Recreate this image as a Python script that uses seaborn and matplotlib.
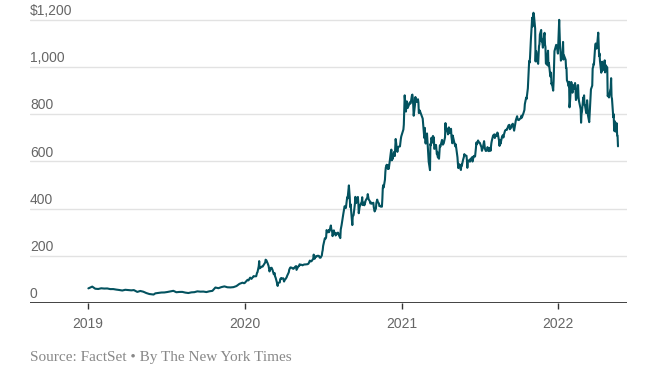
import matplotlib
matplotlib.use("Agg")
import matplotlib.pyplot as plt
import matplotlib.transforms as mtransforms
import seaborn as sns
import pandas as pd

# ──────────────────────────────────────────────
#  Data (closing prices)
# ──────────────────────────────────────────────

DAYS_2019 = [
    "01-02", "01-04", "01-11", "01-18", "01-25", "02-01", "02-08", "02-15", "02-22", "03-01",
    "03-08", "03-15", "03-22", "03-29", "04-05", "04-12", "04-18", "04-26", "05-03", "05-10",
    "05-17", "05-24", "06-03", "06-07", "06-14", "06-21", "06-28", "07-05", "07-12", "07-19",
    "07-26", "08-02", "08-09", "08-16", "08-23", "08-30", "09-06", "09-13", "09-20", "09-27",
    "10-04", "10-11", "10-18", "10-25", "11-01", "11-08", "11-15", "11-22", "11-29", "12-06",
    "12-13", "12-20", "12-27", "12-31",
]
PRICE_2019 = [
    62.0, 63.5, 69.5, 60.5, 59.4, 62.4, 61.2, 61.6, 58.9, 59.0,
    56.8, 55.1, 52.9, 56.0, 55.0, 53.6, 54.7, 47.0, 51.0, 47.9,
    42.2, 38.1, 35.8, 40.9, 42.8, 44.4, 44.7, 46.6, 49.0, 51.6,
    45.6, 46.9, 47.0, 44.0, 42.3, 45.1, 45.9, 49.4, 48.1, 48.4,
    46.3, 49.6, 51.4, 65.6, 62.7, 67.4, 70.4, 66.6, 66.0, 67.2,
    71.7, 81.1, 86.1, 83.7,
]

DAYS_2020 = [
    "01-02", "01-03", "01-08", "01-10", "01-14", "01-17", "01-22", "01-24", "01-28", "01-30",
    "01-31", "02-03", "02-04", "02-05", "02-07", "02-10", "02-12", "02-14", "02-18", "02-19",
    "02-21", "02-24", "02-26", "02-28", "03-02", "03-04", "03-06", "03-09", "03-11", "03-12",
    "03-13", "03-16", "03-18", "03-19", "03-23", "03-24", "03-26", "03-27", "03-31", "04-02",
    "04-03", "04-06", "04-08", "04-09", "04-13", "04-14", "04-16", "04-17", "04-20", "04-22",
    "04-24", "04-28", "04-30", "05-01", "05-05", "05-07", "05-08", "05-11", "05-13", "05-15",
    "05-18", "05-20", "05-22", "05-27", "05-29", "06-01", "06-03", "06-05", "06-09", "06-10",
    "06-12", "06-15", "06-17", "06-19", "06-22", "06-24", "06-26", "06-29", "06-30", "07-01",
    "07-02", "07-06", "07-08", "07-09", "07-10", "07-13", "07-15", "07-16", "07-20", "07-21",
    "07-23", "07-24", "07-27", "07-28", "07-30", "07-31", "08-04", "08-06", "08-07", "08-11",
    "08-12", "08-14", "08-17", "08-18", "08-20", "08-21", "08-24", "08-26", "08-27", "08-28",
    "08-31", "09-01", "09-02", "09-03", "09-04", "09-08", "09-09", "09-11", "09-14", "09-15",
    "09-17", "09-18", "09-21", "09-22", "09-23", "09-25", "09-28", "09-30", "10-01", "10-02",
    "10-05", "10-06", "10-08", "10-09", "10-13", "10-14", "10-16", "10-19", "10-20", "10-22",
    "10-23", "10-27", "10-28", "10-30", "11-02", "11-03", "11-05", "11-06", "11-09", "11-10",
    "11-12", "11-13", "11-16", "11-17", "11-18", "11-19", "11-20", "11-23", "11-24", "11-25",
    "11-27", "11-30", "12-01", "12-02", "12-04", "12-07", "12-08", "12-09", "12-10", "12-11",
    "12-14", "12-16", "12-17", "12-18", "12-21", "12-22", "12-24", "12-28", "12-30", "12-31",
]
PRICE_2020 = [
    86.1, 88.6, 98.4, 95.6, 107.6, 102.1, 113.9, 113.0, 113.4, 128.2,
    130.1, 156.0, 177.4, 146.9, 149.6, 154.3, 154.3, 160.0, 171.7, 183.5,
    180.2, 166.8, 156.4, 133.6, 148.7, 149.1, 140.7, 121.6, 126.8, 112.1,
    109.3, 89.0, 72.2, 85.5, 86.9, 101.0, 105.6, 102.9, 104.8, 90.9,
    96.0, 103.2, 109.1, 114.6, 130.2, 141.0, 149.0, 150.8, 149.4, 146.0,
    145.0, 153.8, 156.4, 140.3, 155.2, 156.3, 163.9, 161.9, 162.0, 159.8,
    162.7, 163.4, 163.4, 164.6, 167.0, 179.6, 176.3, 177.1, 188.0, 205.0,
    187.1, 198.2, 197.0, 200.2, 199.7, 192.2, 191.9, 201.9, 215.9, 223.9,
    241.7, 274.3, 273.2, 278.9, 308.9, 299.4, 309.2, 300.1, 328.6, 313.7,
    302.6, 283.4, 307.9, 295.3, 297.5, 286.2, 297.4, 297.9, 290.5, 274.9,
    311.0, 330.1, 367.1, 377.4, 400.4, 410.0, 402.8, 430.6, 447.8, 442.7,
    498.3, 475.1, 447.4, 407.0, 418.3, 330.2, 366.3, 372.7, 419.6, 449.8,
    423.4, 442.2, 449.4, 424.2, 380.4, 407.3, 421.2, 429.0, 448.2, 415.1,
    425.7, 414.0, 425.9, 434.0, 446.7, 461.3, 439.7, 430.8, 421.9, 425.8,
    420.6, 424.7, 406.0, 388.0, 400.5, 423.9, 438.1, 430.0, 421.3, 410.4,
    411.8, 408.5, 408.1, 441.6, 486.6, 499.3, 489.6, 521.9, 555.4, 574.0,
    585.8, 567.6, 584.8, 568.8, 599.0, 641.8, 649.9, 604.5, 627.1, 610.0,
    639.8, 622.8, 655.9, 695.0, 649.9, 640.3, 661.8, 663.7, 694.8, 705.7,
]

DAYS_2021 = [
    "01-04", "01-05", "01-06", "01-07", "01-08", "01-11", "01-12", "01-13", "01-14", "01-15",
    "01-19", "01-20", "01-21", "01-22", "01-25", "01-26", "01-27", "01-28", "01-29", "02-01",
    "02-02", "02-03", "02-05", "02-08", "02-09", "02-10", "02-12", "02-16", "02-18", "02-19",
    "02-22", "02-23", "02-24", "02-25", "02-26", "03-01", "03-02", "03-03", "03-04", "03-05",
    "03-08", "03-09", "03-10", "03-11", "03-12", "03-15", "03-16", "03-17", "03-18", "03-19",
    "03-22", "03-24", "03-25", "03-26", "03-29", "03-31", "04-01", "04-05", "04-07", "04-09",
    "04-12", "04-13", "04-14", "04-16", "04-19", "04-21", "04-22", "04-23", "04-26", "04-27",
    "04-29", "04-30", "05-03", "05-06", "05-07", "05-10", "05-11", "05-12", "05-13", "05-14",
    "05-17", "05-19", "05-20", "05-21", "05-24", "05-26", "05-27", "05-28", "06-01", "06-02",
    "06-03", "06-04", "06-07", "06-09", "06-10", "06-11", "06-14", "06-15", "06-17", "06-18",
    "06-21", "06-23", "06-24", "06-25", "06-28", "06-30", "07-02", "07-06", "07-07", "07-09",
    "07-12", "07-13", "07-14", "07-16", "07-19", "07-20", "07-22", "07-23", "07-26", "07-27",
    "07-29", "07-30", "08-02", "08-05", "08-06", "08-09", "08-11", "08-12", "08-13", "08-16",
    "08-17", "08-18", "08-19", "08-20", "08-23", "08-25", "08-26", "08-27", "08-30", "09-01",
    "09-03", "09-07", "09-09", "09-10", "09-13", "09-15", "09-17", "09-20", "09-22", "09-24",
    "09-27", "09-28", "09-30", "10-01", "10-04", "10-06", "10-07", "10-08", "10-12", "10-14",
    "10-15", "10-18", "10-19", "10-21", "10-22", "10-25", "10-26", "10-27", "10-28", "10-29",
    "11-01", "11-02", "11-03", "11-04", "11-05", "11-08", "11-09", "11-10", "11-11", "11-12",
    "11-15", "11-16", "11-17", "11-18", "11-19", "11-22", "11-23", "11-24", "11-26", "11-29",
    "11-30", "12-01", "12-02", "12-03", "12-06", "12-07", "12-08", "12-09", "12-10", "12-13",
    "12-14", "12-15", "12-16", "12-17", "12-20", "12-21", "12-22", "12-23", "12-27", "12-28",
    "12-30", "12-31",
]
PRICE_2021 = [
    729.8, 735.1, 756.0, 816.0, 880.0, 811.2, 849.4, 854.4, 845.0, 826.2,
    844.6, 850.5, 845.0, 846.6, 880.8, 883.1, 864.2, 835.4, 793.5, 839.8,
    872.8, 854.7, 852.2, 863.4, 849.5, 804.8, 816.1, 796.2, 787.4, 781.3,
    714.5, 698.8, 742.0, 682.2, 675.5, 718.4, 686.4, 653.2, 621.4, 598.0,
    563.0, 673.6, 668.1, 699.6, 693.7, 707.9, 676.9, 701.8, 653.2, 654.9,
    670.0, 630.3, 640.4, 618.7, 611.3, 667.9, 661.8, 691.1, 671.0, 677.0,
    702.0, 762.3, 732.2, 739.8, 714.6, 744.1, 719.7, 729.4, 738.2, 704.7,
    677.0, 709.4, 684.9, 663.5, 672.4, 629.0, 617.2, 589.9, 571.7, 589.7,
    576.8, 563.5, 586.8, 580.9, 606.4, 619.1, 630.9, 625.2, 623.9, 605.1,
    572.8, 599.1, 605.1, 598.8, 610.1, 609.9, 617.7, 599.4, 616.6, 623.3,
    620.8, 656.6, 679.8, 671.9, 688.7, 679.7, 678.9, 659.6, 644.7, 657.0,
    685.7, 668.5, 653.4, 644.2, 646.2, 660.5, 649.3, 643.4, 657.6, 644.8,
    677.4, 687.2, 709.7, 714.6, 699.1, 713.8, 707.8, 722.3, 717.2, 686.2,
    665.7, 689.0, 673.5, 680.3, 706.3, 711.2, 701.2, 711.9, 730.9, 734.1,
    733.6, 752.9, 754.9, 736.3, 743.0, 755.8, 759.5, 730.2, 751.9, 774.4,
    791.4, 777.6, 775.5, 775.2, 781.5, 782.8, 793.6, 785.5, 805.7, 818.3,
    843.0, 870.1, 864.3, 894.0, 909.7, 1024.9, 1018.4, 1037.9, 1077.0, 1114.0,
    1208.6, 1172.0, 1213.9, 1229.9, 1222.1, 1162.9, 1023.5, 1068.0, 1063.5, 1033.4,
    1013.4, 1054.7, 1089.0, 1096.4, 1137.1, 1156.9, 1109.0, 1116.0, 1081.9, 1137.0,
    1144.8, 1095.0, 1084.6, 1015.0, 1009.0, 1051.8, 1069.0, 1003.8, 1017.0, 966.4,
    958.5, 976.0, 926.9, 932.6, 899.9, 938.5, 1008.9, 1067.0, 1093.9, 1088.5,
    1070.3, 1056.8,
]

DAYS_2022 = [
    "01-03", "01-04", "01-05", "01-06", "01-07", "01-10", "01-11", "01-12", "01-13", "01-14",
    "01-18", "01-19", "01-20", "01-21", "01-24", "01-25", "01-26", "01-27", "01-28", "01-31",
    "02-01", "02-02", "02-03", "02-04", "02-07", "02-08", "02-09", "02-10", "02-11", "02-14",
    "02-15", "02-16", "02-17", "02-18", "02-22", "02-23", "02-24", "02-25", "02-28", "03-01",
    "03-02", "03-03", "03-04", "03-07", "03-08", "03-09", "03-10", "03-11", "03-14", "03-15",
    "03-16", "03-17", "03-18", "03-21", "03-22", "03-23", "03-24", "03-25", "03-28", "03-29",
    "03-30", "03-31", "04-01", "04-04", "04-05", "04-06", "04-07", "04-08", "04-11", "04-12",
    "04-13", "04-14", "04-18", "04-19", "04-20", "04-21", "04-22", "04-25", "04-26", "04-27",
    "04-28", "04-29", "05-02", "05-03", "05-04", "05-05", "05-06", "05-09", "05-10", "05-11",
    "05-12", "05-13", "05-16", "05-17", "05-18", "05-19", "05-20",
]
PRICE_2022 = [
    1199.8, 1149.6, 1088.1, 1064.7, 1027.0, 1058.1, 1064.4, 1106.2, 1031.6, 1049.6,
    1030.5, 995.7, 996.3, 943.9, 930.0, 918.4, 937.4, 829.1, 846.4, 936.7,
    931.3, 905.7, 891.1, 923.3, 907.3, 922.0, 932.0, 904.6, 860.0, 875.8,
    922.4, 923.4, 876.4, 857.0, 821.5, 764.0, 800.8, 809.9, 870.4, 864.4,
    879.9, 839.3, 838.3, 804.6, 824.4, 859.0, 838.3, 795.4, 766.4, 801.9,
    840.2, 871.6, 905.4, 921.2, 994.0, 999.1, 1013.9, 1010.6, 1091.8, 1099.6,
    1094.0, 1077.6, 1084.6, 1145.5, 1091.3, 1045.8, 1057.3, 1025.5, 975.9, 987.0,
    1022.4, 985.0, 1004.3, 1028.2, 977.2, 1008.8, 1005.1, 998.0, 876.4, 881.5,
    877.5, 870.8, 902.9, 909.3, 952.6, 873.3, 865.7, 787.1, 800.0, 734.0,
    728.0, 769.6, 724.4, 761.6, 709.8, 709.4, 663.9,
]

Y_TICKS = [0, 200, 400, 600, 800, 1000, 1200]
Y_LABELS = ["0", "200", "400", "600", "800", "1,000", "$1,200"]
X_TICKS = ["2019-01-01", "2020-01-01", "2021-01-01", "2022-01-01"]
X_LABELS = ["2019", "2020", "2021", "2022"]

LINE = "#03525f"
GRID = "#e2e2e2"
AXIS = "#333333"
LABEL = "#666666"

# ──────────────────────────────────────────────
#  Build frame
# ──────────────────────────────────────────────

frames = []
for year, days, prices in [(2019, DAYS_2019, PRICE_2019),
                           (2020, DAYS_2020, PRICE_2020),
                           (2021, DAYS_2021, PRICE_2021),
                           (2022, DAYS_2022, PRICE_2022)]:
    frames.append(pd.DataFrame({
        "date": pd.to_datetime([f"{year}-{d}" for d in days]),
        "price": prices,
    }))
df = pd.concat(frames, ignore_index=True)

# ──────────────────────────────────────────────
#  Figure
# ──────────────────────────────────────────────

sns.set_theme(style="white")
plt.rcParams["font.family"] = ["Liberation Sans", "DejaVu Sans"]

fig = plt.figure(figsize=(6.61, 3.74), dpi=100, facecolor="white")
ax = fig.add_axes([30 / 661, 1 - 303 / 374, 597 / 661, 295 / 374])

# gridlines + labels sitting above them
trans = mtransforms.blended_transform_factory(ax.transAxes, ax.transData)
for val, lab in zip(Y_TICKS, Y_LABELS):
    if val == 0:
        ax.axhline(0, color=AXIS, lw=1.3, zorder=1)
    else:
        ax.axhline(val, color=GRID, lw=1.0, zorder=0)
    ax.annotate(lab, xy=(0, val), xycoords=trans, xytext=(0, 3.5),
                textcoords="offset points", ha="left", va="baseline",
                fontsize=10, color=LABEL)

sns.lineplot(data=df, x="date", y="price", ax=ax, color=LINE,
             lw=1.5, zorder=3)

ax.set_xlim(pd.Timestamp("2018-08-19"), pd.Timestamp("2022-06-10"))
ax.set_ylim(0, 1250)
ax.set_yticks([])
ax.set_xticks(pd.to_datetime(X_TICKS))
ax.set_xticklabels(X_LABELS)
ax.tick_params(axis="x", bottom=True, length=4, width=1, color=AXIS,
               labelcolor=LABEL, labelsize=10, pad=6)
ax.set_xlabel("")
ax.set_ylabel("")
for spine in ax.spines.values():
    spine.set_visible(False)
ax.set_facecolor("white")

fig.text(30 / 661, 1 - 358 / 374, "Source: FactSet \u2022 By The New York Times",
         ha="left", va="center", fontsize=11, color="#888888",
         family=["Liberation Serif", "DejaVu Serif"])

fig.savefig("out.png", dpi=100, facecolor="white")
